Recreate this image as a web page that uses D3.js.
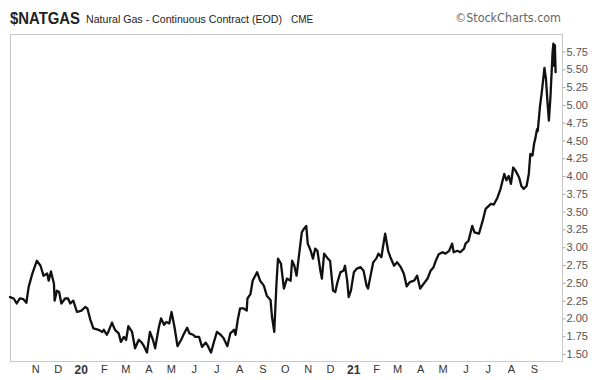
<!DOCTYPE html>
<html>
<head>
<meta charset="utf-8">
<script src="https://cdn.jsdelivr.net/npm/d3@7"></script>
<style>
  html, body { margin: 0; padding: 0; background: #fff; }
  svg { display: block; font-family: "Liberation Sans", Arial, sans-serif; }
</style>
</head>
<body>
<svg id="chart" width="600" height="380"></svg>
<script>
// ---- Data ----
const dates = [
"2019-09-28","2019-10-03","2019-10-07","2019-10-11","2019-10-16","2019-10-20","2019-10-23","2019-10-28",
"2019-11-03","2019-11-08","2019-11-12","2019-11-17","2019-11-19","2019-11-22","2019-11-26","2019-11-27","2019-11-30",
"2019-12-03","2019-12-06","2019-12-11","2019-12-15","2019-12-18","2019-12-22","2019-12-27",
"2020-01-02","2020-01-07","2020-01-10","2020-01-14","2020-01-18","2020-01-25","2020-01-30",
"2020-02-01","2020-02-05","2020-02-07","2020-02-12","2020-02-16","2020-02-21","2020-02-24","2020-02-28",
"2020-03-02","2020-03-05","2020-03-10","2020-03-14","2020-03-19","2020-03-23","2020-03-26","2020-03-30",
"2020-04-03","2020-04-07","2020-04-10","2020-04-15","2020-04-18","2020-04-22","2020-04-25","2020-04-29",
"2020-05-02","2020-05-06","2020-05-10","2020-05-15","2020-05-19","2020-05-23","2020-05-26","2020-05-31",
"2020-06-03","2020-06-08","2020-06-12","2020-06-17","2020-06-20","2020-06-24","2020-06-28",
"2020-07-02","2020-07-07","2020-07-11","2020-07-16","2020-07-20","2020-07-25","2020-07-27","2020-07-30",
"2020-08-02","2020-08-07","2020-08-11","2020-08-12","2020-08-16","2020-08-19","2020-08-25","2020-08-29",
"2020-09-03","2020-09-07","2020-09-12","2020-09-14","2020-09-17","2020-09-20","2020-09-22","2020-09-26","2020-09-30",
"2020-10-04","2020-10-09","2020-10-11","2020-10-14","2020-10-17","2020-10-21","2020-10-24","2020-10-27","2020-10-30",
"2020-11-01","2020-11-05","2020-11-08","2020-11-11","2020-11-14","2020-11-18","2020-11-20","2020-11-23","2020-11-28",
"2020-12-01","2020-12-05","2020-12-08","2020-12-11","2020-12-15","2020-12-19","2020-12-21","2020-12-24","2020-12-26","2020-12-29",
"2021-01-02","2021-01-06","2021-01-11","2021-01-15","2021-01-19","2021-01-21","2021-01-24","2021-01-28",
"2021-02-01","2021-02-04","2021-02-08","2021-02-10","2021-02-13","2021-02-17","2021-02-20","2021-02-25",
"2021-03-01","2021-03-06","2021-03-10","2021-03-14","2021-03-18","2021-03-24","2021-03-28",
"2021-04-01","2021-04-06","2021-04-11","2021-04-15","2021-04-19","2021-04-22","2021-04-26",
"2021-05-01","2021-05-05","2021-05-10","2021-05-14","2021-05-16","2021-05-21","2021-05-25","2021-05-30",
"2021-06-01","2021-06-05","2021-06-10","2021-06-13","2021-06-19","2021-06-24","2021-06-28",
"2021-07-05","2021-07-09","2021-07-14","2021-07-18","2021-07-23","2021-07-26","2021-07-29",
"2021-08-01","2021-08-04","2021-08-07","2021-08-12","2021-08-15","2021-08-18","2021-08-22","2021-08-25","2021-08-27","2021-08-30",
"2021-09-01","2021-09-03","2021-09-05","2021-09-06","2021-09-08","2021-09-09","2021-09-11","2021-09-14","2021-09-15",
"2021-09-17","2021-09-19","2021-09-21","2021-09-23","2021-09-26","2021-09-27","2021-09-28","2021-09-29","2021-09-30"
];
const prices = [
2.30,2.28,2.21,2.28,2.27,2.22,2.44,2.63,
2.81,2.74,2.60,2.63,2.53,2.66,2.49,2.25,2.39,
2.37,2.21,2.28,2.28,2.21,2.25,2.09,
2.11,2.16,2.14,1.98,1.86,1.84,1.81,
1.84,1.77,1.81,1.94,1.84,1.79,1.67,1.74,
1.70,1.89,1.81,1.58,1.70,1.66,1.61,1.52,
1.81,1.70,1.58,1.88,2.00,1.91,1.95,1.93,
2.09,1.88,1.61,1.70,1.79,1.87,1.79,1.77,
1.74,1.74,1.60,1.66,1.61,1.52,1.67,
1.81,1.77,1.72,1.61,1.79,1.84,1.77,1.98,
2.14,2.14,2.11,2.28,2.34,2.53,2.65,2.53,
2.46,2.32,2.26,2.02,1.81,2.49,2.84,2.77,2.42,
2.56,2.53,2.81,2.74,2.60,2.95,3.21,3.26,3.30,
3.05,2.95,2.84,2.98,2.95,2.67,2.56,2.91,2.84,
2.81,2.39,2.37,2.51,2.65,2.67,2.74,2.53,2.30,2.39,
2.65,2.70,2.72,2.67,2.46,2.42,2.58,2.79,
2.84,2.91,2.86,3.00,3.19,2.95,2.86,2.74,
2.79,2.72,2.63,2.45,2.51,2.53,2.60,
2.42,2.49,2.56,2.67,2.72,2.81,2.90,
2.93,2.91,2.95,3.05,2.93,2.95,2.93,2.98,
3.05,3.09,3.30,3.21,3.19,3.37,3.54,
3.61,3.60,3.70,3.82,4.03,3.94,4.00,
3.89,4.12,4.08,3.98,3.86,3.82,3.86,4.03,4.31,4.29,
4.45,4.54,4.66,4.63,4.86,4.98,5.14,5.42,5.52,
5.37,5.05,4.78,5.10,5.75,5.86,5.55,5.84,5.46
];
const yTicks = [1.50,1.75,2.00,2.25,2.50,2.75,3.00,3.25,3.50,3.75,4.00,4.25,4.50,4.75,5.00,5.25,5.50,5.75];
const monthLabels = ["N","D","20","F","M","A","M","J","J","A","S","O","N","D","21","F","M","A","M","J","J","A","S"];
const titleSymbol = "$NATGAS";
const titleText = "Natural Gas - Continuous Contract (EOD)";
const exchange = "CME";
const credit = "\u00A9StockCharts.com";

// ---- Layout ----
const frame = {left: 10, right: 562, top: 34, bottom: 361};
const svg = d3.select("#chart");
const parse = d3.timeParse("%Y-%m-%d");
const data = dates.map((d, i) => ({date: parse(d), value: prices[i]}));

const x = d3.scaleTime()
  .domain([new Date(2019, 8, 28), new Date(2021, 9, 8, 14)])
  .range([frame.left, frame.right]);
const y = d3.scaleLinear()
  .domain([1.50, 5.75])
  .range([354, 51.5]);

// Frame
svg.append("rect")
  .attr("x", frame.left + 0.5).attr("y", frame.top + 0.5)
  .attr("width", frame.right - frame.left).attr("height", frame.bottom - frame.top)
  .attr("fill", "none").attr("stroke", "#c8c8c8").attr("stroke-width", 1);

// Y axis (right)
const yAxis = d3.axisRight(y).tickValues(yTicks).tickFormat(d3.format(".2f")).tickSize(3).tickPadding(1);
const gy = svg.append("g").attr("transform", `translate(${frame.right + 0.5},0)`).call(yAxis);
gy.select(".domain").remove();
gy.selectAll(".tick line").attr("stroke", "#aaa");
gy.selectAll(".tick text").attr("fill", "#555").attr("font-size", 11)
  .attr("font-family", "'Liberation Sans', Arial, sans-serif");

// X axis (bottom) month labels
const monthTicks = d3.timeMonth.range(new Date(2019, 10, 1), new Date(2021, 9, 1));
const xAxis = d3.axisBottom(x).tickValues(monthTicks)
  .tickFormat((d, i) => monthLabels[i]).tickSize(0).tickPadding(4);
const gx = svg.append("g").attr("transform", `translate(0,${frame.bottom})`).call(xAxis);
gx.select(".domain").remove();
gx.selectAll(".tick text")
  .attr("fill", "#333")
  .attr("font-family", "'Liberation Sans', Arial, sans-serif")
  .attr("font-size", (d, i) => (monthLabels[i].length > 1 ? 12 : 11))
  .attr("font-weight", (d, i) => (monthLabels[i].length > 1 ? "bold" : "normal"));

// Price line
const line = d3.line().x(d => x(d.date)).y(d => y(d.value)).curve(d3.curveLinear);
svg.append("path").datum(data)
  .attr("d", line)
  .attr("fill", "none")
  .attr("stroke", "#111")
  .attr("stroke-width", 2.3)
  .attr("stroke-linejoin", "round")
  .attr("stroke-linecap", "round");

// Header
svg.append("text").attr("x", 10).attr("y", 24)
  .attr("font-family", "'Liberation Sans', Arial, sans-serif")
  .attr("font-weight", "bold").attr("font-size", 16).attr("fill", "#222")
  .attr("textLength", 70).attr("lengthAdjust", "spacingAndGlyphs")
  .text(titleSymbol);
svg.append("text").attr("x", 86).attr("y", 23)
  .attr("font-family", "'Liberation Sans', Arial, sans-serif")
  .attr("font-size", 11).attr("fill", "#222")
  .attr("textLength", 196).attr("lengthAdjust", "spacingAndGlyphs")
  .text(titleText);
svg.append("text").attr("x", 291).attr("y", 23)
  .attr("font-family", "'Liberation Sans', Arial, sans-serif")
  .attr("font-size", 10).attr("fill", "#222")
  .text(exchange);
svg.append("text").attr("x", 561).attr("y", 22).attr("text-anchor", "end")
  .attr("font-family", "'DejaVu Sans', sans-serif")
  .attr("font-size", 11.5).attr("fill", "#666")
  .attr("textLength", 106).attr("lengthAdjust", "spacingAndGlyphs")
  .text(credit);
</script>
</body>
</html>
